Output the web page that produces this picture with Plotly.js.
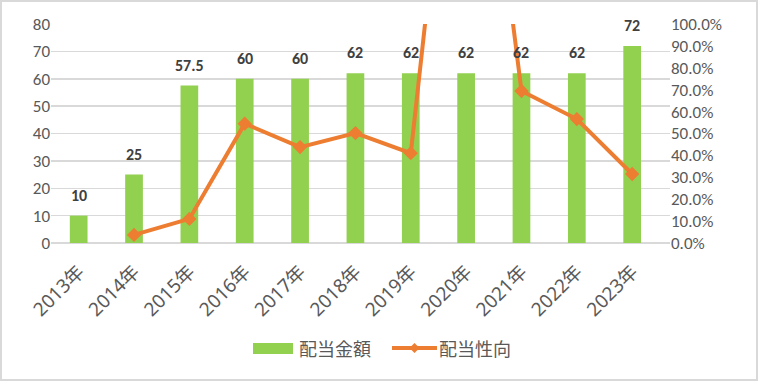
<!DOCTYPE html>
<html><head><meta charset="utf-8">
<script src="https://cdn.plot.ly/plotly-3.0.1.min.js"></script>
<style>
html,body{margin:0;padding:0;background:#fff;}
#wrap{position:relative;width:758px;height:381px;}
#chart{width:758px;height:381px;}
#frame{position:absolute;left:0;top:0;width:758px;height:381px;box-sizing:border-box;border:2px solid #d9d9d9;pointer-events:none;}
</style></head>
<body>
<div id="wrap"><div id="chart"></div><div id="frame"></div></div>
<script>
const years = ["2013年","2014年","2015年","2016年","2017年","2018年","2019年","2020年","2021年","2022年","2023年"];
const dividendAmount = [10, 25, 57.5, 60, 60, 62, 62, 62, 62, 62, 72];
const amountLabels = ["10","25","57.5","60","60","62","62","62","62","62","72"];
const payoutYears = ["2014年","2015年","2016年","2017年","2018年","2019年","2020年","2021年","2022年","2023年"];
const payoutRatio = [0.037, 0.11, 0.545, 0.438, 0.502, 0.41, 2.7, 0.694, 0.566, 0.315];
const seriesNames = ["配当金額", "配当性向"];
const barColor = '#92D050', lineColor = '#ED7D31';

const font = "Calibri, Carlito, 'Noto Sans', 'Noto Sans CJK JP', sans-serif";
const traces = [
  {type:'bar', name:seriesNames[0], x:years, y:dividendAmount,
   marker:{color:barColor}, width:0.32, yaxis:'y', showlegend:false},
  {type:'scatter', mode:'lines+markers', name:seriesNames[1], x:payoutYears, y:payoutRatio,
   line:{color:lineColor, width:4}, marker:{symbol:'diamond', size:11, color:lineColor},
   yaxis:'y2', cliponaxis:true, showlegend:false}
];
// custom legend (pixel -> paper conversion for plot area l=51,w=619,bottom=243,h=219)
const L=51, W=619, B=243, H=219;
const px = v => (v-L)/W, py = v => (B-v)/H;
const legY = 348;
const shapes = [
  {type:'rect', xref:'paper', yref:'paper', x0:px(253), x1:px(293), y0:py(343), y1:py(354), fillcolor:barColor, line:{width:0}},
  {type:'line', xref:'paper', yref:'paper', x0:px(392), x1:px(437), y0:py(legY), y1:py(legY), line:{color:lineColor, width:4}},
  {type:'path', xref:'paper', yref:'paper', fillcolor:lineColor, line:{width:0},
   path:`M${px(414.5)},${py(legY-5)} L${px(419.5)},${py(legY)} L${px(414.5)},${py(legY+5)} L${px(409.5)},${py(legY)} Z`}
];
const annFont = {family:"'Noto Sans CJK JP', sans-serif", size:18, color:'#595959'};
const annotations = [
  {xref:'paper', yref:'paper', x:px(297), y:py(legY), xanchor:'left', yanchor:'middle', text:seriesNames[0], showarrow:false, font:annFont},
  {xref:'paper', yref:'paper', x:px(437), y:py(legY), xanchor:'left', yanchor:'middle', text:seriesNames[1], showarrow:false, font:annFont}
];
years.forEach((yr, i) => {
  annotations.push({xref:'x', yref:'y', x:yr, y:dividendAmount[i], text:amountLabels[i], showarrow:false,
    xanchor:'center', yanchor:'bottom', yshift:9,
    font:{family:font, size:16, color:'#404040', weight:'bold'}});
});
const layout = {
  width:758, height:381,
  margin:{l:51, r:88, t:24, b:138, autoexpand:false},
  paper_bgcolor:'#fff', plot_bgcolor:'#fff',
  font:{family:font, size:15, color:'#595959'},
  showlegend:false,
  shapes:shapes, annotations:annotations,
  xaxis:{type:'category', tickangle:-45, showgrid:false, zeroline:false, showline:false, ticks:'', automargin:false,
         ticklabelstandoff:13,
         tickfont:{family:"'Noto Sans', 'Noto Sans CJK JP', sans-serif", size:19, color:'#595959'}},
  yaxis:{range:[0,80], dtick:10, showgrid:true, gridcolor:'#d9d9d9', gridwidth:1.5, zeroline:true, automargin:false,
         zerolinecolor:'#d9d9d9', zerolinewidth:1.5, showline:false, ticks:'',
         tickfont:{size:17, color:'#595959'}},
  yaxis2:{range:[0,1], dtick:0.1, tickformat:'.1%', overlaying:'y', side:'right', showgrid:false, automargin:false,
          zeroline:false, showline:false, ticks:'', tickfont:{size:17, color:'#595959'}},
  bargap:0.68
};
Plotly.newPlot('chart', traces, layout, {displayModeBar:false, staticPlot:true});
</script>
</body></html>
